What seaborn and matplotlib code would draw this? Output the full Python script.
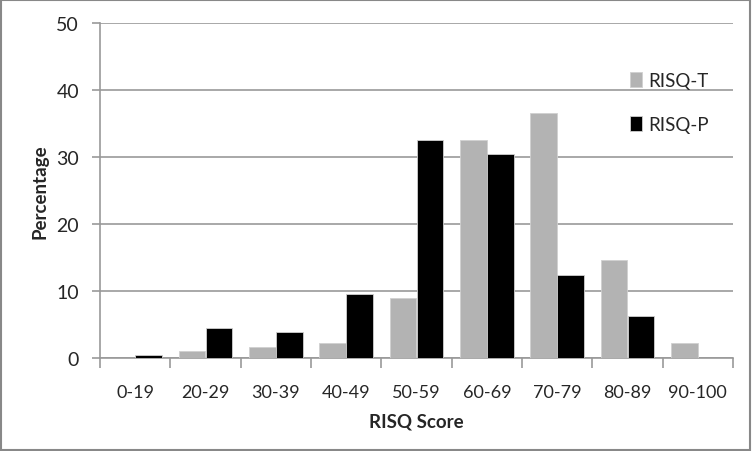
import numpy as np
import pandas as pd
import matplotlib
matplotlib.use("Agg")
import matplotlib.pyplot as plt
import seaborn as sns

# Values (percent of respondents per score band)
score_bands = ["0-19", "20-29", "30-39", "40-49", "50-59", "60-69", "70-79", "80-89", "90-100"]
risq_t = [0.0, 1.1, 1.6, 2.2, 8.9, 32.6, 36.5, 14.6, 2.2]
risq_p = [0.5, 4.5, 3.9, 9.5, 32.6, 30.4, 12.4, 6.2, 0.0]
series_names = ["RISQ-T", "RISQ-P"]

df = pd.DataFrame({
    "Band": score_bands * 2,
    "Percentage": risq_t + risq_p,
    "Series": [series_names[0]] * len(score_bands) + [series_names[1]] * len(score_bands),
})

sns.set_style("white")
plt.rcParams["font.family"] = ["Lato", "DejaVu Sans"]

fig = plt.figure(figsize=(7.52, 4.52), dpi=100)
ax = fig.add_axes([100 / 752, 1 - 359 / 452, 633 / 752, 335 / 452])

sns.barplot(data=df, x="Band", y="Percentage", hue="Series",
            palette=["#b3b3b3", "#000000"], width=0.76, gap=0,
            edgecolor="#d0d0d0", linewidth=0.6, ax=ax, zorder=3)

ax.set_xlim(-0.5, len(score_bands) - 0.5)
ax.set_ylim(0, 50)
ax.set_yticks([0, 10, 20, 30, 40, 50])
ax.yaxis.grid(True, color="#999999", linewidth=1.2, zorder=0)
ax.set_axisbelow(True)

for side in ["top", "right"]:
    ax.spines[side].set_visible(False)
for side in ["left", "bottom"]:
    ax.spines[side].set_color("#999999")
    ax.spines[side].set_linewidth(1.2)

# category boundary ticks below the axis
ax.set_xticks(np.arange(-0.5, len(score_bands)), minor=True)
ax.tick_params(axis="x", which="minor", length=7, color="#999999", width=1.2, direction="out", bottom=True)
ax.tick_params(axis="x", which="major", length=0, pad=19, labelsize=13)
ax.tick_params(axis="y", length=6, color="#999999", width=1.2, direction="out", left=True, pad=9, labelsize=14)

ax.set_xlabel("RISQ Score", fontsize=13.5, fontweight="bold", labelpad=9)
ax.set_ylabel("Percentage", fontsize=13.5, fontweight="bold", labelpad=6)

ax.legend(title=None, loc="upper left", bbox_to_anchor=(0.81, 0.905), frameon=False,
          fontsize=13.5, handlelength=0.65, handleheight=0.85, handletextpad=0.35,
          labelspacing=1.45)

fig.patches.append(plt.Rectangle((0.001, 0.002), 0.997, 0.995, transform=fig.transFigure,
                                 fill=False, edgecolor="#888888", linewidth=1.5))

fig.savefig("out.png", dpi=100, facecolor="white")
